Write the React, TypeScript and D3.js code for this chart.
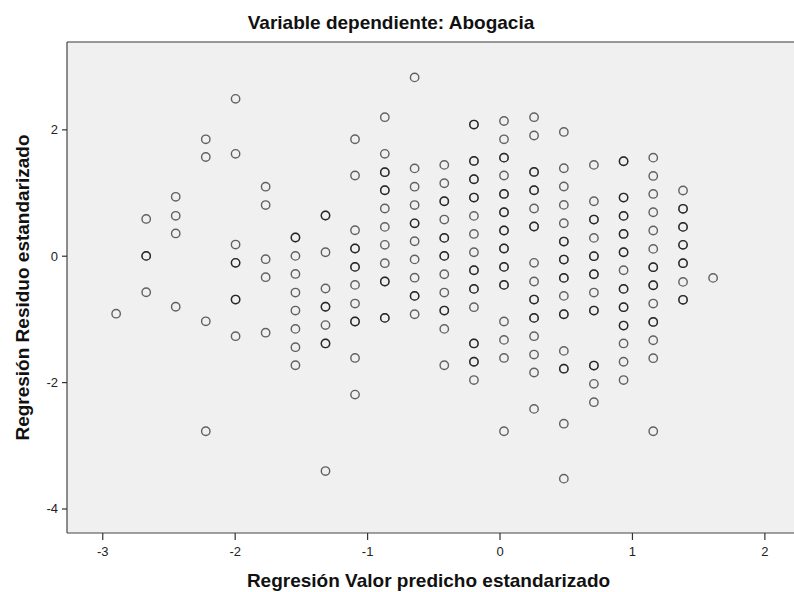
import React from "react";
import * as d3 from "d3";

// Predicted value levels (standardized), one column of points each
const predictedLevels: number[] = [
  -2.899, -2.672, -2.449, -2.222, -1.997, -1.77, -1.545, -1.318, -1.095, -0.87,
  -0.645, -0.421, -0.197, 0.03, 0.257, 0.482, 0.709, 0.933, 1.157, 1.382, 1.609,
];

// Standardized residuals in each column (repeated values = overlapping points)
const residualsByLevel: number[][] = [
  [-0.91],
  [0.59, 0.005, 0.005, -0.57],
  [0.94, 0.64, 0.36, -0.8],
  [1.85, 1.57, -1.03, -2.77],
  [2.49, 1.62, 0.185, -0.105, -0.105, -0.686, -0.686, -1.266],
  [1.1, 0.81, -0.047, -0.332, -1.21],
  [0.296, 0.296, 0.005, -0.28, -0.575, -0.86, -1.15, -1.44, -1.725],
  [0.644, 0.644, 0.063, -0.511, -0.8, -0.8, -1.09, -1.38, -1.38, -3.4],
  [1.851, 1.277, 0.411, 0.122, 0.122, -0.169, -0.169, -0.454, -0.749, -1.033, -1.033, -1.61, -2.19],
  [2.2, 1.62, 1.33, 1.33, 1.044, 1.044, 0.755, 0.464, 0.18, -0.11, -0.4, -0.4, -0.976, -0.976],
  [2.83, 1.39, 1.1, 0.81, 0.52, 0.52, 0.237, -0.05, -0.34, -0.628, -0.628, -0.918],
  [1.445, 1.155, 0.87, 0.87, 0.58, 0.29, 0.29, 0.005, 0.005, -0.285, -0.575, -0.86, -0.86, -1.15, -1.725],
  [2.084, 2.084, 1.508, 1.508, 1.218, 1.218, 0.928, 0.928, 0.638, 0.353, 0.063, -0.222, -0.222, -0.517, -0.517, -0.807, -1.38, -1.38, -1.67, -1.67, -1.96],
  [2.14, 1.85, 1.56, 1.56, 1.277, 0.986, 0.986, 0.696, 0.696, 0.407, 0.407, 0.122, 0.122, -0.169, -0.169, -0.454, -0.454, -1.033, -1.324, -1.61, -2.77],
  [2.2, 1.91, 1.334, 1.334, 1.044, 1.044, 0.755, 0.47, 0.47, -0.105, -0.4, -0.686, -0.686, -0.976, -0.976, -1.266, -1.556, -1.84, -2.416],
  [1.967, 1.392, 1.103, 0.812, 0.522, 0.232, 0.232, -0.053, -0.053, -0.343, -0.343, -0.628, -0.918, -0.918, -1.498, -1.78, -1.78, -2.65, -3.52],
  [1.445, 0.87, 0.58, 0.58, 0.29, 0.0, 0.0, -0.285, -0.285, -0.575, -0.86, -0.86, -1.73, -1.73, -2.02, -2.31],
  [1.503, 1.503, 0.928, 0.928, 0.638, 0.638, 0.353, 0.353, 0.063, 0.063, -0.222, -0.517, -0.517, -0.807, -0.807, -1.097, -1.097, -1.38, -1.67, -1.96],
  [1.56, 1.27, 0.986, 0.696, 0.407, 0.116, -0.174, -0.174, -0.459, -0.459, -0.749, -1.04, -1.04, -1.33, -1.614, -2.77],
  [1.04, 0.75, 0.75, 0.464, 0.464, 0.18, 0.18, -0.11, -0.11, -0.406, -0.69, -0.69],
  [-0.343],
];

const xTicks: number[] = [-3, -2, -1, 0, 1, 2];
const yTicks: number[] = [-4, -2, 0, 2];

const titleText = "Variable dependiente: Abogacia";
const xLabel = "Regresión Valor predicho estandarizado";
const yLabel = "Regresión Residuo estandarizado";

const W = 794;
const H = 592;
const plotLeft = 67;
const plotRight = 794;
const plotTop = 42;
const plotBottom = 533;

export default function App() {
  const x = d3.scaleLinear().domain([-3.27, 2.22]).range([plotLeft, plotRight]);
  const y = d3.scaleLinear().domain([-4.38, 3.39]).range([plotBottom, plotTop]);

  const points: { px: number; py: number }[] = [];
  predictedLevels.forEach((lv, i) => {
    residualsByLevel[i].forEach((r) => points.push({ px: x(lv), py: y(r) }));
  });

  const font = "'Liberation Sans', Arial, sans-serif";

  return (
    <svg
      width={W}
      height={H}
      style={{ position: "absolute", left: 0, top: 0, background: "#fff" }}
      fontFamily={font}
    >
      <rect x={0} y={0} width={W} height={H} fill="#ffffff" />
      <rect
        x={plotLeft}
        y={plotTop}
        width={plotRight - plotLeft}
        height={plotBottom - plotTop}
        fill="#f0f0f0"
      />
      {/* frame */}
      <line x1={plotLeft} x2={plotRight} y1={plotTop} y2={plotTop} stroke="#777" strokeWidth={1.5} />
      <line x1={plotLeft} x2={plotLeft} y1={plotTop} y2={plotBottom} stroke="#444" strokeWidth={1.2} />
      <line x1={plotLeft} x2={plotRight} y1={plotBottom} y2={plotBottom} stroke="#444" strokeWidth={1.2} />

      {/* x ticks */}
      {xTicks.map((t) => (
        <g key={"xt" + t}>
          <line x1={x(t)} x2={x(t)} y1={plotBottom} y2={plotBottom + 7} stroke="#333" strokeWidth={1.2} />
          <text x={x(t)} y={plotBottom + 23} textAnchor="middle" fontSize={13} fill="#222">
            {t}
          </text>
        </g>
      ))}
      {/* y ticks */}
      {yTicks.map((t) => (
        <g key={"yt" + t}>
          <line x1={plotLeft - 5} x2={plotLeft} y1={y(t)} y2={y(t)} stroke="#333" strokeWidth={1.2} />
          <text x={plotLeft - 9} y={y(t) + 4.5} textAnchor="end" fontSize={13} fill="#222">
            {t}
          </text>
        </g>
      ))}

      {/* points */}
      {points.map((p, i) => (
        <circle
          key={i}
          cx={p.px}
          cy={p.py}
          r={4.2}
          fill="none"
          stroke="#000"
          strokeOpacity={0.6}
          strokeWidth={1.4}
        />
      ))}

      {/* title and axis labels */}
      <text x={391} y={29} textAnchor="middle" fontSize={19} fontWeight="bold" fill="#111">
        {titleText}
      </text>
      <text
        x={(plotLeft + plotRight) / 2 - 2}
        y={587}
        textAnchor="middle"
        fontSize={19}
        fontWeight="bold"
        fill="#111"
      >
        {xLabel}
      </text>
      <text
        transform={`translate(29,${(plotTop + plotBottom) / 2}) rotate(-90)`}
        textAnchor="middle"
        fontSize={19}
        fontWeight="bold"
        fill="#111"
      >
        {yLabel}
      </text>
    </svg>
  );
}
